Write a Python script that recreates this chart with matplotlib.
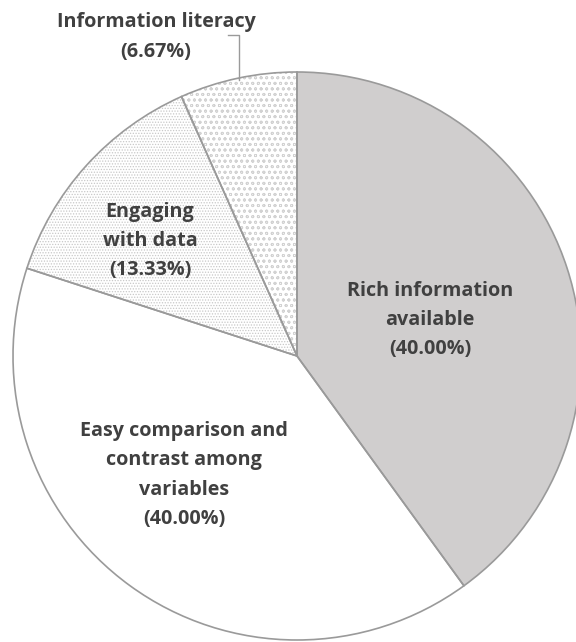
import matplotlib.pyplot as plt

# slice data (clockwise from 12 o'clock)
labels = ["Rich information\navailable", "Easy comparison and\ncontrast among\nvariables",
          "Engaging\nwith data", "Information literacy"]
shares = [40.00, 40.00, 13.33, 6.67]
colors = ["#d0cece", "white", "white", "white"]
hatches = [None, None, "......", "ooo"]
hatch_colors = [None, None, "#c8c8c8", "#d2d2d2"]

plt.rcParams['font.family'] = ['Open Sans', 'DejaVu Sans']
plt.rcParams['hatch.linewidth'] = 0.6

fig = plt.figure(figsize=(5.76, 6.42), dpi=100)
ax = fig.add_axes([0, 0, 1, 1])

cx, cy, r = 297, 286, 284

# fill + hatch layer
wedges, _ = ax.pie(shares, colors=colors, startangle=90, counterclock=False,
                   center=(cx, cy), radius=r, frame=True,
                   wedgeprops=dict(linewidth=0))
for w, h, hc in zip(wedges, hatches, hatch_colors):
    if h:
        w.set_hatch(h)
        w.set_edgecolor(hc)
# outline layer
ax.pie(shares, colors=["none"] * 4, startangle=90, counterclock=False,
       center=(cx, cy), radius=r, frame=True,
       wedgeprops=dict(edgecolor="#9a9a9a", linewidth=1.2, fill=False))
ax.set_xlim(0, 576)
ax.set_ylim(0, 642)
ax.set_aspect('equal')
ax.axis('off')

txt = dict(ha='center', va='center', fontsize=14.2, fontweight='bold', color='#404040',
           linespacing=1.62)

def place(lab, val, x, y):
    ax.text(x, y, f"{lab}\n({val:.2f}%)", **txt)

place(labels[0], shares[0], 430, 642 - 320)
place(labels[1], shares[1], 184, 642 - 475)
place(labels[2], shares[2], 150, 642 - 241)
place(labels[3], shares[3], 156, 642 - 37)

# leader line for the small slice
ax.plot([228, 239, 239], [642 - 35, 642 - 35, 642 - 80], color='#9a9a9a', lw=1)

fig.savefig("out.png", dpi=100)
